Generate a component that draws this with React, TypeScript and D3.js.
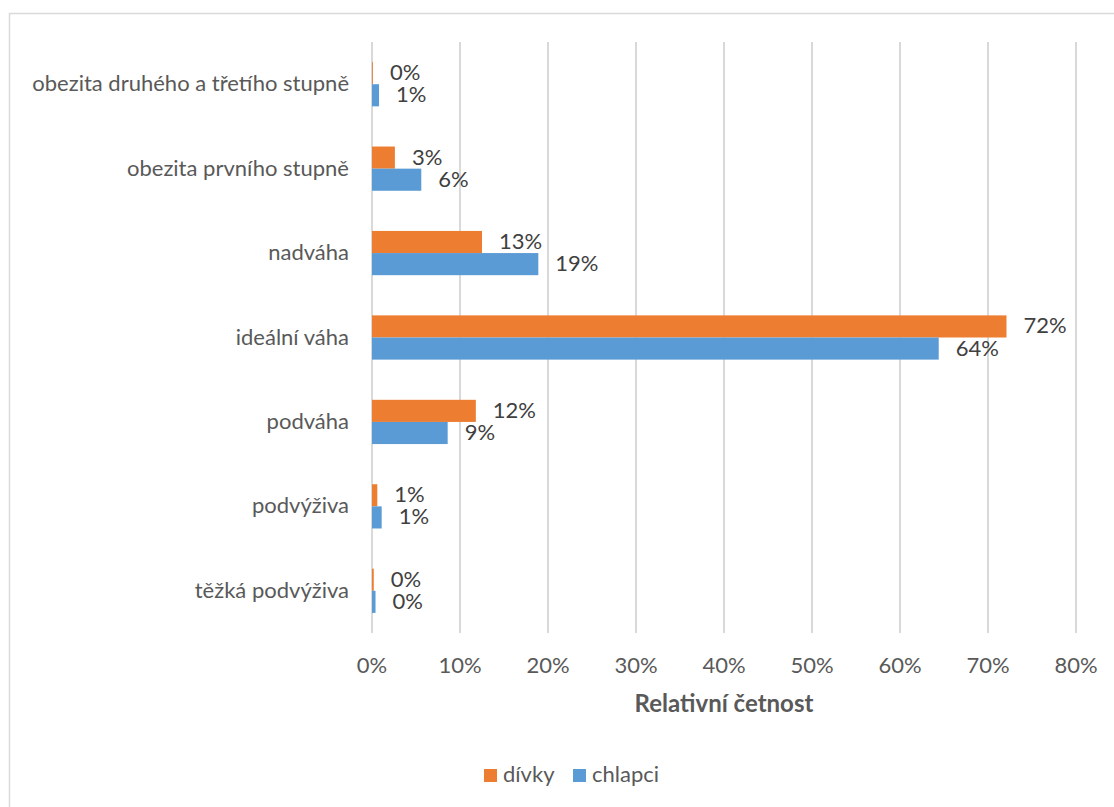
import React, { useEffect, useRef } from "react";
import * as d3 from "d3";

const categories = [
  "obezita druhého a třetího stupně",
  "obezita prvního stupně",
  "nadváha",
  "ideální váha",
  "podváha",
  "podvýživa",
  "těžká podvýživa",
];
const divky = [0.1, 2.6, 12.5, 72.1, 11.8, 0.6, 0.2];
const chlapci = [0.8, 5.6, 18.9, 64.4, 8.6, 1.1, 0.4];
const divkyLabels = ["0%", "3%", "13%", "72%", "12%", "1%", "0%"];
const chlapciLabels = ["1%", "6%", "19%", "64%", "9%", "1%", "0%"];
const xTicks = [0, 10, 20, 30, 40, 50, 60, 70, 80];
const seriesNames = ["dívky", "chlapci"];
const colors = ["#ED7D31", "#5B9BD5"];

const FONT = "Lato, 'Open Sans', sans-serif";
const FS = 22;

export default function App() {
  const ref = useRef<SVGSVGElement>(null);
  useEffect(() => {
    const svg = d3.select(ref.current);
    svg.selectAll("*").remove();
    const W = 1114, H = 807;
    const left = 372, right = 1076, top = 42, bottom = 633;

    svg.append("rect").attr("x", 9.5).attr("y", 13.5).attr("width", W).attr("height", H)
      .attr("fill", "#fff").attr("stroke", "#d9d9d9").attr("stroke-width", 1.5);

    const x = d3.scaleLinear().domain([0, 80]).range([left, right]);
    const y = d3.scaleBand().domain(categories).range([top, bottom]).paddingInner(0.476).paddingOuter(0.238);

    svg.append("g").selectAll("line").data(xTicks).join("line")
      .attr("x1", d => x(d)).attr("x2", d => x(d))
      .attr("y1", top).attr("y2", bottom)
      .attr("stroke", "#d9d9d9").attr("stroke-width", 2);

    svg.append("g").selectAll("text").data(xTicks).join("text")
      .attr("x", d => x(d)).attr("y", 673).attr("text-anchor", "middle")
      .attr("font-family", FONT).attr("font-size", FS).attr("fill", "#595959")
      .text(d => `${d}%`);

    svg.append("g").selectAll("text").data(categories).join("text")
      .attr("x", 349).attr("y", d => y(d)! + y.bandwidth() / 2 + 7)
      .attr("text-anchor", "end")
      .attr("font-family", FONT).attr("font-size", FS).attr("fill", "#595959")
      .text(d => d);

    const bh = y.bandwidth() / 2;
    const series = [divky, chlapci];
    const labels = [divkyLabels, chlapciLabels];
    series.forEach((vals, si) => {
      const g = svg.append("g");
      g.selectAll("rect").data(vals).join("rect")
        .attr("x", x(0)).attr("y", (_, i) => y(categories[i])! + si * bh)
        .attr("width", d => x(d) - x(0)).attr("height", bh)
        .attr("fill", colors[si]);
      g.selectAll("text").data(vals).join("text")
        .attr("x", d => x(d) + 17)
        .attr("y", (_, i) => y(categories[i])! + si * bh + bh / 2 + 7)
        .attr("font-family", FONT).attr("font-size", FS).attr("fill", "#404040")
        .text((_, i) => labels[si][i]);
    });

    svg.append("text").attr("x", (left + right) / 2).attr("y", 712)
      .attr("text-anchor", "middle").attr("font-family", FONT).attr("font-size", 24)
      .attr("font-weight", "bold").attr("fill", "#595959").text("Relativní četnost");

    const lg = svg.append("g");
    const items = [
      { x: 484, tx: 503, name: seriesNames[0], c: colors[0] },
      { x: 573, tx: 592, name: seriesNames[1], c: colors[1] },
    ];
    items.forEach(it => {
      lg.append("rect").attr("x", it.x).attr("y", 769).attr("width", 13).attr("height", 13).attr("fill", it.c);
      lg.append("text").attr("x", it.tx).attr("y", 782).attr("font-family", FONT).attr("font-size", FS)
        .attr("fill", "#595959").text(it.name);
    });
  }, []);
  return (
    <svg ref={ref} width={1114} height={807}
      style={{ position: "absolute", left: 0, top: 0, background: "#fff" }} />
  );
}
